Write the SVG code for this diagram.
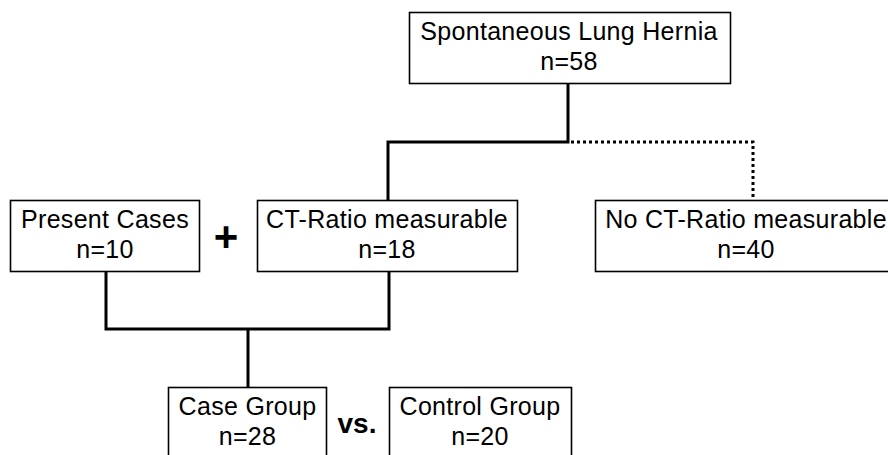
<svg xmlns="http://www.w3.org/2000/svg" width="888" height="455" viewBox="0 0 888 455">
<style>
.box{fill:#fff;stroke:#000;stroke-width:1.6}
.t{font-family:"Liberation Sans",Arial,sans-serif;font-size:25px;letter-spacing:0.3px;fill:#000;text-anchor:middle}
.b{font-family:"Liberation Sans",Arial,sans-serif;font-weight:bold;fill:#000;text-anchor:middle}
.c{fill:none;stroke:#000;stroke-width:3}
.d{fill:none;stroke:#000;stroke-width:3;stroke-dasharray:3 3}
</style>
<rect width="888" height="455" fill="#fff"/>
<g id="connectors">
<path class="c" d="M568 84V142H388V200"/>
<path class="d" d="M571 142H753V200"/>
<path class="c" d="M106 272V329H389V272"/>
<path class="c" d="M248 329V387"/>
</g>
<g id="n-hernia">
<rect class="box" x="409.5" y="12.5" width="321" height="71"/>
<text class="t" x="569" y="40">Spontaneous Lung Hernia</text>
<text class="t" x="569" y="70">n=58</text>
</g>
<g id="n-present">
<rect class="box" x="10.5" y="200.5" width="189" height="71"/>
<text class="t" x="105" y="228">Present Cases</text>
<text class="t" x="105" y="258">n=10</text>
</g>
<text class="b" x="226" y="251" font-size="42">+</text>
<g id="n-ct">
<rect class="box" x="257.5" y="200.5" width="260" height="71"/>
<text class="t" x="387" y="228">CT-Ratio measurable</text>
<text class="t" x="387" y="258">n=18</text>
</g>
<g id="n-noct">
<rect class="box" x="595.5" y="200.5" width="310" height="71"/>
<text class="t" x="746" y="228">No CT-Ratio measurable</text>
<text class="t" x="746" y="258">n=40</text>
</g>
<g id="n-case">
<rect class="box" x="168.5" y="387.5" width="158" height="80"/>
<text class="t" x="247.5" y="415">Case Group</text>
<text class="t" x="247.5" y="445">n=28</text>
</g>
<text class="b" x="357" y="433" font-size="28">vs.</text>
<g id="n-control">
<rect class="box" x="389.5" y="387.5" width="182" height="80"/>
<text class="t" x="480" y="415">Control Group</text>
<text class="t" x="480" y="445">n=20</text>
</g>
</svg>
